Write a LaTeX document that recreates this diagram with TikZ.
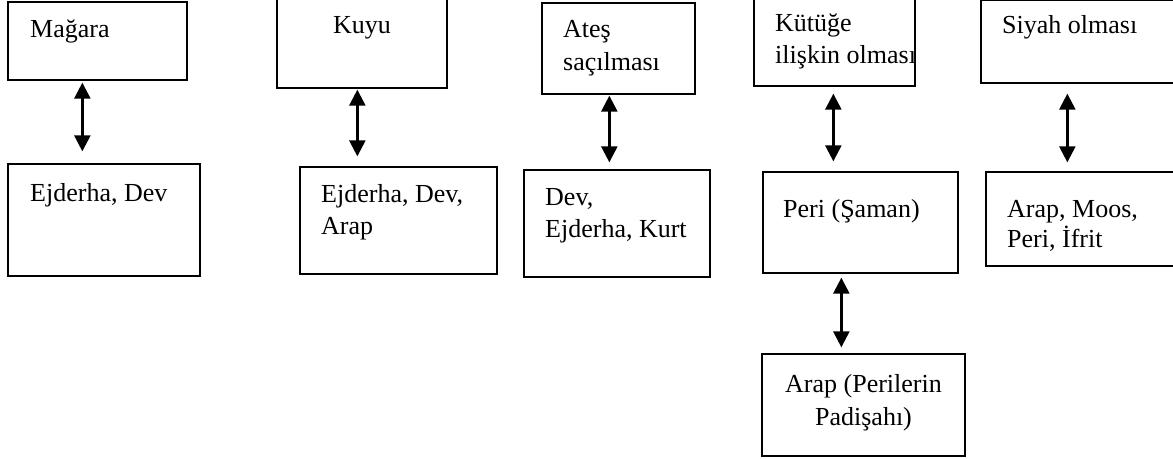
\documentclass[tikz,border=0pt]{standalone}
\usepackage{fontspec}
\setmainfont{Liberation Serif}
\usetikzlibrary{arrows.meta}
\tikzset{
  box/.style={draw=black, line width=1.3pt, inner sep=0pt, fill=none},
  txt/.style={inner sep=0pt, anchor=base west, font=\fontsize{26}{33}\selectfont},
  ctxt/.style={inner sep=0pt, anchor=base, font=\fontsize{26}{33}\selectfont},
  arr/.style={line width=2.4pt, {Triangle[width=16pt,length=16pt]}-{Triangle[width=16pt,length=16pt]}}
}
\begin{document}
\begin{tikzpicture}[x=1pt,y=-1pt]
\useasboundingbox (0,0) rectangle (1173,458);
\clip (0,0) rectangle (1173,458);
\fill[white] (0,0) rectangle (1173,458);
% boxes
\node[box, minimum width=179pt, minimum height=78pt] (A) at (97.5,41) {};
\node[box, minimum width=192pt, minimum height=112pt] (B) at (104,220) {};
\node[box, minimum width=170pt, minimum height=90pt] (C) at (362,43) {};
\node[box, minimum width=197pt, minimum height=107pt] (D) at (398.5,220.5) {};
\node[box, minimum width=153pt, minimum height=91pt] (E) at (618.5,48.5) {};
\node[box, minimum width=186pt, minimum height=107pt] (F) at (617,223.5) {};
\node[box, minimum width=161pt, minimum height=88pt] (G) at (834.5,42) {};
\node[box, minimum width=195pt, minimum height=101pt] (H) at (860.5,222.5) {};
\node[box, minimum width=203pt, minimum height=102pt] (I) at (863.5,405) {};
\node[box, minimum width=199pt, minimum height=83pt] (J) at (1080.5,41.5) {};
\node[box, minimum width=194pt, minimum height=94pt] (K) at (1083,219) {};
% texts
\node[txt] (tA) at (30,37) {Mağara};
\node[txt] (tB) at (30,201) {Ejderha, Dev};
\node[txt] (tC) at (333,33) {Kuyu};
\node[txt] (tD1) at (321,202) {Ejderha, Dev,};
\node[txt] (tD2) at (321,234) {Arap};
\node[txt] (tE1) at (563,37) {Ateş};
\node[txt] (tE2) at (563,70) {saçılması};
\node[txt] (tF1) at (545,205) {Dev,};
\node[txt] (tF2) at (545,237) {Ejderha, Kurt};
\node[txt] (tG1) at (775,31) {Kütüğe};
\node[txt] (tG2) at (775,63) {ilişkin olması};
\node[txt] (tH) at (783,217) {Peri (Şaman)};
\node[ctxt] (tI1) at (863.5,392) {Arap (Perilerin};
\node[ctxt] (tI2) at (863.5,425) {Padişahı)};
\node[txt] (tJ) at (1002,33) {Siyah olması};
\node[txt] (tK1) at (1007,217) {Arap, Moos,};
\node[txt] (tK2) at (1007,247) {Peri, İfrit};
% connectors
\draw[arr] ([xshift=75pt,yshift=-2pt]A.south west) -- ([xshift=75pt,yshift=12pt]B.north west);
\draw[arr] ([xshift=81pt,yshift=-1pt]C.south west) -- ([xshift=58pt,yshift=10pt]D.north west);
\draw[arr] ([xshift=68pt,yshift=-1pt]E.south west) -- ([xshift=86pt,yshift=7pt]F.north west);
\draw[arr] ([xshift=80pt,yshift=-7pt]G.south west) -- ([xshift=71pt,yshift=10pt]H.north west);
\draw[arr] ([xshift=87pt,yshift=-10pt]J.south west) -- ([xshift=82pt,yshift=9pt]K.north west);
\draw[arr] ([xshift=79pt,yshift=-4pt]H.south west) -- ([xshift=80pt,yshift=6pt]I.north west);
\end{tikzpicture}
\end{document}
